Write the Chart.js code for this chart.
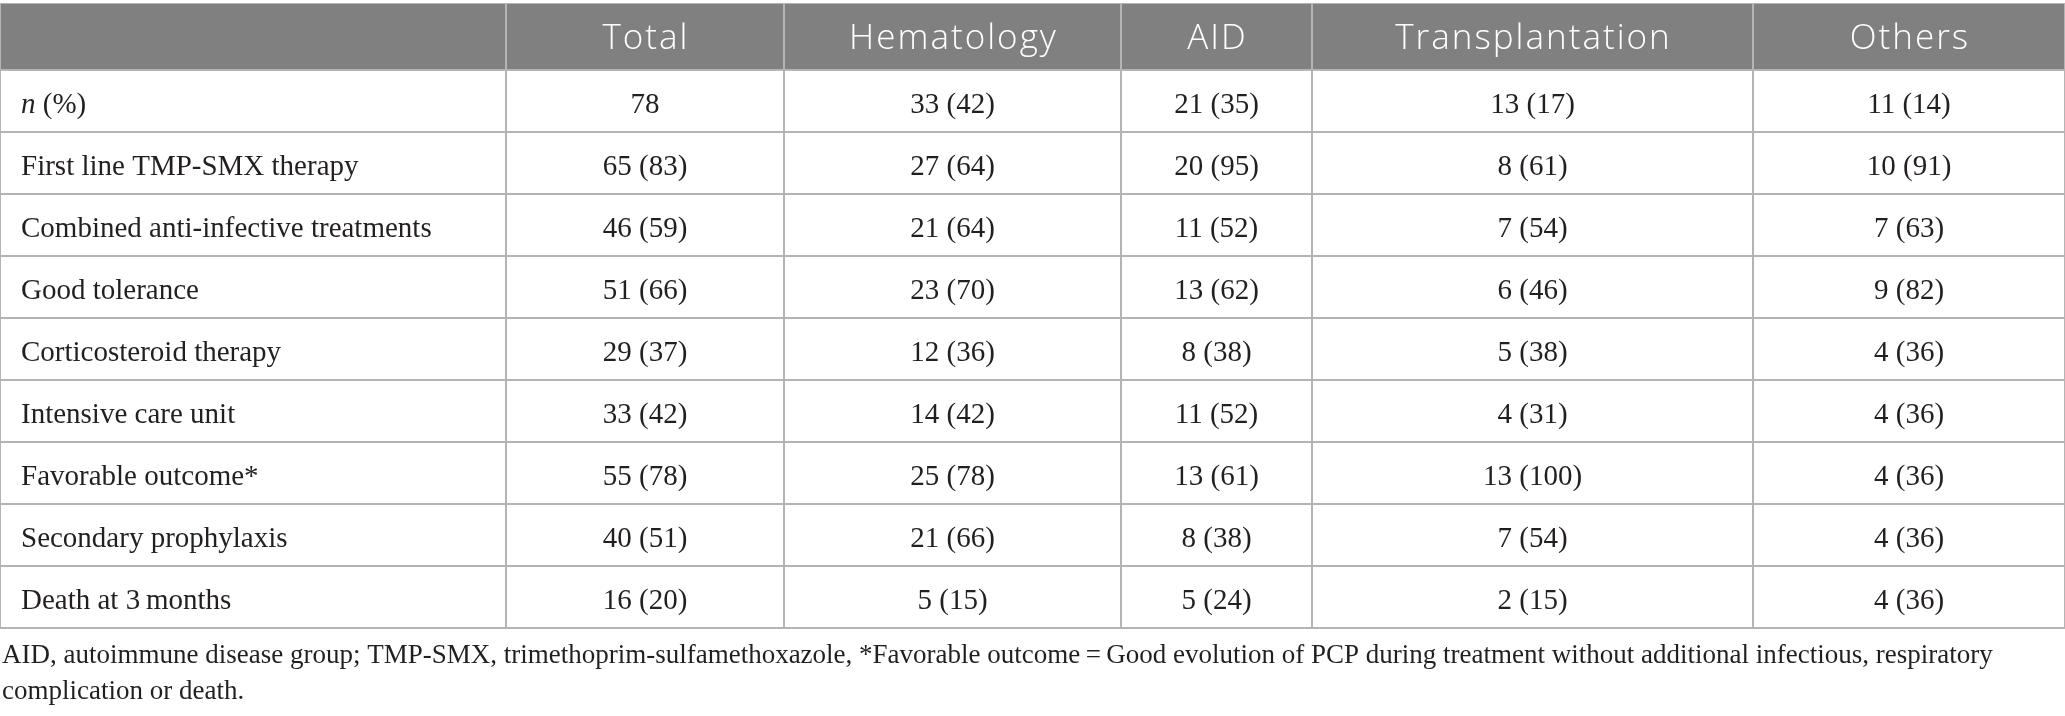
<!DOCTYPE html>
<html>
<head>
<meta charset="utf-8">
<script src="https://cdn.jsdelivr.net/npm/chart.js@4.4.1/dist/chart.umd.min.js"></script>
<style>
  html, body { margin: 0; padding: 0; background: #ffffff; width: 2065px; height: 716px; overflow: hidden; }
  #hdrWrap { position: absolute; left: 0; top: 3px; width: 2065px; height: 67px; }
  #bdyWrap { position: absolute; left: 0; top: 70px; width: 2065px; height: 646px; }
</style>
</head>
<body>
<div id="hdrWrap"><canvas id="hdr" width="2065" height="67"></canvas></div>
<div id="bdyWrap"><canvas id="bdy" width="2065" height="646"></canvas></div>
<script>
// ---------------- DATA ----------------
const columns = ['Total', 'Hematology', 'AID', 'Transplantation', 'Others'];
const rowLabels = [
  'n (%)',
  'First line TMP-SMX therapy',
  'Combined anti-infective treatments',
  'Good tolerance',
  'Corticosteroid therapy',
  'Intensive care unit',
  'Favorable outcome*',
  'Secondary prophylaxis',
  'Death at 3\u2009months'
];
const totalN         = [78, 65, 46, 51, 29, 33, 55, 40, 16];
const totalPct       = [null, 83, 59, 66, 37, 42, 78, 51, 20];
const hematologyN    = [33, 27, 21, 23, 12, 14, 25, 21, 5];
const hematologyPct  = [42, 64, 64, 70, 36, 42, 78, 66, 15];
const aidN           = [21, 20, 11, 13, 8, 11, 13, 8, 5];
const aidPct         = [35, 95, 52, 62, 38, 52, 61, 38, 24];
const transplantN    = [13, 8, 7, 6, 5, 4, 13, 7, 2];
const transplantPct  = [17, 61, 54, 46, 38, 31, 100, 54, 15];
const othersN        = [11, 10, 7, 9, 4, 4, 4, 4, 4];
const othersPct      = [14, 91, 63, 82, 36, 36, 36, 36, 36];
const footnoteLines  = [
  'AID, autoimmune disease group; TMP-SMX, trimethoprim-sulfamethoxazole, *Favorable outcome\u2009=\u2009Good evolution of PCP during treatment without additional infectious, respiratory',
  'complication or death.'
];

const seriesN   = [totalN, hematologyN, aidN, transplantN, othersN];
const seriesPct = [totalPct, hematologyPct, aidPct, transplantPct, othersPct];

// ---------------- LAYOUT / STYLE ----------------
const colWidths = [506, 278, 337, 191, 441, 312];
const tableWidth = colWidths.reduce((a, b) => a + b, 0);
const headerBg = '#808080';
const lineColor = '#b4b4b4';
const textColor = '#231f20';
const bodyFont = "29px 'Liberation Serif', serif";
const bodyItalic = "italic 29px 'Liberation Serif', serif";
const noteFont = "27px 'Liberation Serif', serif";
const headFont = "300 35px 'Open Sans', sans-serif";

function fmt(n, p) { return p == null ? String(n) : n + ' (' + p + ')'; }

function frame(ctx, area, sides) {
  ctx.save();
  ctx.strokeStyle = lineColor;
  ctx.lineWidth = 2;
  ctx.beginPath();
  if (sides.top) { ctx.moveTo(area.left, area.top); ctx.lineTo(area.right, area.top); }
  if (sides.bottom) { ctx.moveTo(area.left, area.bottom); ctx.lineTo(area.right, area.bottom); }
  ctx.moveTo(area.left, area.top); ctx.lineTo(area.left, area.bottom);
  ctx.moveTo(area.right, area.top); ctx.lineTo(area.right, area.bottom);
  ctx.stroke();
  ctx.restore();
}

const commonScales = {
  x: { type: 'linear', stacked: true, display: false, min: 0, max: tableWidth, grid: { display: false } },
  y: { type: 'category', stacked: true, display: false, grid: { display: false } }
};

function barDataset(i, n, bg) {
  return {
    label: 'col' + i,
    data: Array.from({ length: n }, () => colWidths[i]),
    backgroundColor: bg,
    borderColor: lineColor,
    borderWidth: 1,
    borderSkipped: false,
    inflateAmount: 0,
    categoryPercentage: 1,
    barPercentage: 1
  };
}

function makeOptions(padBottom) {
  return {
    indexAxis: 'y',
    responsive: false,
    devicePixelRatio: 1,
    animation: false,
    events: [],
    layout: { padding: { left: 0, right: 0, top: 0, bottom: padBottom } },
    plugins: { legend: { display: false }, tooltip: { enabled: false }, title: { display: false } },
    scales: commonScales
  };
}

// ---------------- HEADER CHART ----------------
const headerTextPlugin = {
  id: 'headerText',
  afterDatasetsDraw(chart) {
    const ctx = chart.ctx;
    ctx.save();
    ctx.font = headFont;
    ctx.fillStyle = '#ffffff';
    ctx.textAlign = 'center';
    ctx.textBaseline = 'alphabetic';
    if ('letterSpacing' in ctx) ctx.letterSpacing = '2px';
    for (let i = 1; i < colWidths.length; i++) {
      const el = chart.getDatasetMeta(i).data[0];
      const p = el.getProps(['x', 'y', 'base'], true);
      ctx.fillText(columns[i - 1], (p.x + p.base) / 2 + 1, p.y + 12);
    }
    ctx.restore();
    frame(ctx, chart.chartArea, { top: true, bottom: false });
  }
};

new Chart(document.getElementById('hdr'), {
  type: 'bar',
  data: {
    labels: ['header'],
    datasets: colWidths.map((w, i) => barDataset(i, 1, headerBg))
  },
  options: makeOptions(0),
  plugins: [headerTextPlugin]
});

// ---------------- BODY CHART ----------------
const bodyTextPlugin = {
  id: 'bodyText',
  afterDatasetsDraw(chart) {
    const ctx = chart.ctx;
    ctx.save();
    ctx.fillStyle = textColor;
    ctx.textBaseline = 'alphabetic';
    const meta0 = chart.getDatasetMeta(0);
    meta0.data.forEach((el, r) => {
      const p = el.getProps(['x', 'y', 'base'], true);
      const x0 = p.base + 21, yb = p.y + 12;
      ctx.textAlign = 'left';
      const label = rowLabels[r];
      if (label.startsWith('n (')) {
        ctx.font = bodyItalic;
        ctx.fillText('n', x0, yb);
        const w = ctx.measureText('n').width;
        ctx.font = bodyFont;
        ctx.fillText(label.slice(1), x0 + w, yb);
      } else {
        ctx.font = bodyFont;
        ctx.fillText(label, x0, yb);
      }
    });
    ctx.font = bodyFont;
    ctx.textAlign = 'center';
    for (let c = 0; c < seriesN.length; c++) {
      const meta = chart.getDatasetMeta(c + 1);
      meta.data.forEach((el, r) => {
        const p = el.getProps(['x', 'y', 'base'], true);
        ctx.fillText(fmt(seriesN[c][r], seriesPct[c][r]), (p.x + p.base) / 2, p.y + 12);
      });
    }
    // footnote below the table
    ctx.font = noteFont;
    ctx.textAlign = 'left';
    footnoteLines.forEach((line, k) => {
      ctx.fillText(line, chart.chartArea.left + 2, chart.chartArea.bottom + 35 + k * 36);
    });
    ctx.restore();
    frame(ctx, chart.chartArea, { top: false, bottom: true });
  }
};

new Chart(document.getElementById('bdy'), {
  type: 'bar',
  data: {
    labels: rowLabels,
    datasets: colWidths.map((w, i) => barDataset(i, rowLabels.length, '#ffffff'))
  },
  options: makeOptions(88),
  plugins: [bodyTextPlugin]
});
</script>
</body>
</html>
